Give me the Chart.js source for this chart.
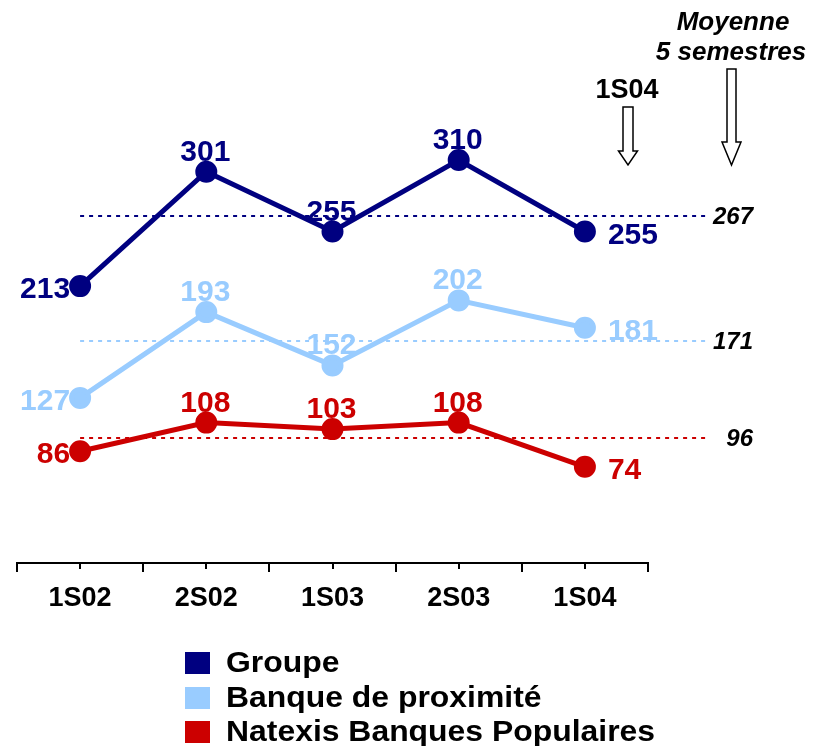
<!DOCTYPE html>
<html>
<head>
<meta charset="utf-8">
<script src="https://cdn.jsdelivr.net/npm/chart.js@4/dist/chart.umd.min.js"></script>
<style>
  html, body { margin: 0; padding: 0; background: #fff; }
  canvas { display: block; }
</style>
</head>
<body>
<canvas id="chart" width="821" height="746"></canvas>
<script>
// Semesters on the x axis
const categories = ['1S02', '2S02', '1S03', '2S03', '1S04'];

// Series values
const groupeValues  = [213, 301, 255, 310, 255];
const banqueValues  = [127, 193, 152, 202, 181];
const natexisValues = [86, 108, 103, 108, 74];

// 5-semester averages, one per series
const averageValues = [267, 171, 96];

const seriesNames = ['Groupe', 'Banque de proximité', 'Natexis Banques Populaires'];

const COLOR_GROUPE  = '#000080';
const COLOR_BANQUE  = '#99CCFF';
const COLOR_NATEXIS = '#CC0000';
const FONT_FAMILY   = '"Liberation Sans", Arial, Helvetica, sans-serif';

function makeDataset(label, data, color) {
    return {
        label,
        data,
        borderColor:          color,
        backgroundColor:      color,
        pointBackgroundColor: color,
        pointBorderColor:     color,
        borderWidth:          5,
        pointRadius:          8.5,
        pointHoverRadius:     8.5,
        tension:              0,
        clip:                 false,
    };
}

// Draw text slightly wider than the font, like the original slide
function fillWide(ctx, text, x, y, sx) {
    ctx.save();
    ctx.translate(x, y);
    ctx.scale(sx, 1);
    ctx.fillText(text, 0, 0);
    ctx.restore();
}

// Dotted average lines + italic labels on the right
const averageLinesPlugin = {
    id: 'averageLines',
    beforeDatasetsDraw(chart) {
        const { ctx } = chart;
        const x = chart.scales.x;
        const y = chart.scales.y;
        const startX = x.getPixelForValue(0);
        const endX   = 708;
        ctx.save();
        chart.data.datasets.forEach((ds, i) => {
            const py = Math.round(y.getPixelForValue(averageValues[i]));
            ctx.beginPath();
            ctx.setLineDash([4, 5]);
            ctx.lineWidth = 2;
            ctx.strokeStyle = ds.borderColor;
            ctx.moveTo(startX, py);
            ctx.lineTo(endX, py);
            ctx.stroke();
            ctx.setLineDash([]);
            ctx.fillStyle = '#000';
            ctx.font = `italic bold 24px ${FONT_FAMILY}`;
            ctx.textAlign = 'right';
            ctx.textBaseline = 'alphabetic';
            ctx.fillText(String(averageValues[i]), 753, py + 8);
        });
        ctx.restore();
    },
};

// Value labels: first point on the left, last on the right, others above
const valueLabelsPlugin = {
    id: 'valueLabels',
    afterDatasetsDraw(chart) {
        const { ctx } = chart;
        ctx.save();
        ctx.font = `bold 30px ${FONT_FAMILY}`;
        ctx.textBaseline = 'alphabetic';
        chart.data.datasets.forEach((ds, di) => {
            const meta = chart.getDatasetMeta(di);
            meta.data.forEach((pt, i) => {
                const text = String(ds.data[i]);
                ctx.fillStyle = ds.borderColor;
                if (i === 0) {
                    ctx.textAlign = 'right';
                    ctx.fillText(text, pt.x - 10, pt.y + 12);
                } else if (i === meta.data.length - 1) {
                    ctx.textAlign = 'left';
                    ctx.fillText(text, pt.x + 23, pt.y + 12);
                } else {
                    ctx.textAlign = 'center';
                    ctx.fillText(text, pt.x - 1, pt.y - 11);
                }
            });
        });
        ctx.restore();
    },
};

function drawArrow(ctx, cx, top, headTop, tip, shaftHalf, headHalf) {
    ctx.beginPath();
    ctx.moveTo(cx - shaftHalf, top);
    ctx.lineTo(cx + shaftHalf, top);
    ctx.lineTo(cx + shaftHalf, headTop);
    ctx.lineTo(cx + headHalf, headTop);
    ctx.lineTo(cx, tip);
    ctx.lineTo(cx - headHalf, headTop);
    ctx.lineTo(cx - shaftHalf, headTop);
    ctx.closePath();
    ctx.fillStyle = '#fff';
    ctx.fill();
    ctx.lineWidth = 1.5;
    ctx.strokeStyle = '#000';
    ctx.stroke();
}

// Arrows, headers, small center ticks and the stacked legend
const annotationsPlugin = {
    id: 'annotations',
    afterDraw(chart) {
        const { ctx } = chart;
        const x = chart.scales.x;
        const axisY = chart.chartArea.bottom;
        ctx.save();

        // short ticks under each category
        ctx.strokeStyle = '#000';
        ctx.lineWidth = 2;
        categories.forEach((c, i) => {
            const px = Math.round(x.getPixelForValue(i));
            ctx.beginPath();
            ctx.moveTo(px, axisY);
            ctx.lineTo(px, axisY + 6);
            ctx.stroke();
        });

        drawArrow(ctx, 628, 107, 151, 165, 5, 9.5);
        drawArrow(ctx, 731.5, 69, 142, 165, 4.5, 9.5);

        ctx.fillStyle = '#000';
        ctx.textAlign = 'center';
        ctx.textBaseline = 'alphabetic';
        ctx.font = `bold 27px ${FONT_FAMILY}`;
        ctx.fillText(categories[categories.length - 1], 627, 98);
        ctx.font = `italic bold 26px ${FONT_FAMILY}`;
        ctx.fillText('Moyenne', 733, 30);
        ctx.fillText('5 semestres', 731, 60);

        // legend, one entry per row
        const rowTops = [652, 687, 721];
        ctx.textAlign = 'left';
        ctx.textBaseline = 'middle';
        ctx.font = `bold 29px ${FONT_FAMILY}`;
        chart.data.datasets.forEach((ds, i) => {
            ctx.fillStyle = ds.borderColor;
            ctx.fillRect(185, rowTops[i], 25, 22);
            ctx.fillStyle = '#000';
            fillWide(ctx, ds.label, 226, rowTops[i] + 12, 1.1);
        });
        ctx.restore();
    },
};

new Chart(document.getElementById('chart'), {
    type: 'line',
    data: {
        labels: categories,
        datasets: [
            makeDataset(seriesNames[0], groupeValues,  COLOR_GROUPE),
            makeDataset(seriesNames[1], banqueValues,  COLOR_BANQUE),
            makeDataset(seriesNames[2], natexisValues, COLOR_NATEXIS),
        ],
    },
    options: {
        responsive:       false,
        animation:        false,
        devicePixelRatio: 1,
        layout: { padding: { left: 17, right: 173, top: 43, bottom: 138 } },
        plugins: {
            legend:  { display: false },
            tooltip: { enabled: false },
        },
        scales: {
            x: {
                offset: true,
                afterFit: scale => { scale.height = 45; },
                border: { display: true, color: '#000', width: 2 },
                grid: {
                    offset:          true,
                    drawOnChartArea: false,
                    drawTicks:       true,
                    tickLength:      9,
                    color:           '#000',
                    lineWidth:       2,
                },
                ticks: {
                    color:   '#000',
                    padding: 10,
                    font:    { family: FONT_FAMILY, size: 27, weight: 'bold' },
                },
            },
            y: {
                display: false,
                min:     0,
                max:     400,
            },
        },
    },
    plugins: [averageLinesPlugin, valueLabelsPlugin, annotationsPlugin],
});
</script>
</body>
</html>
